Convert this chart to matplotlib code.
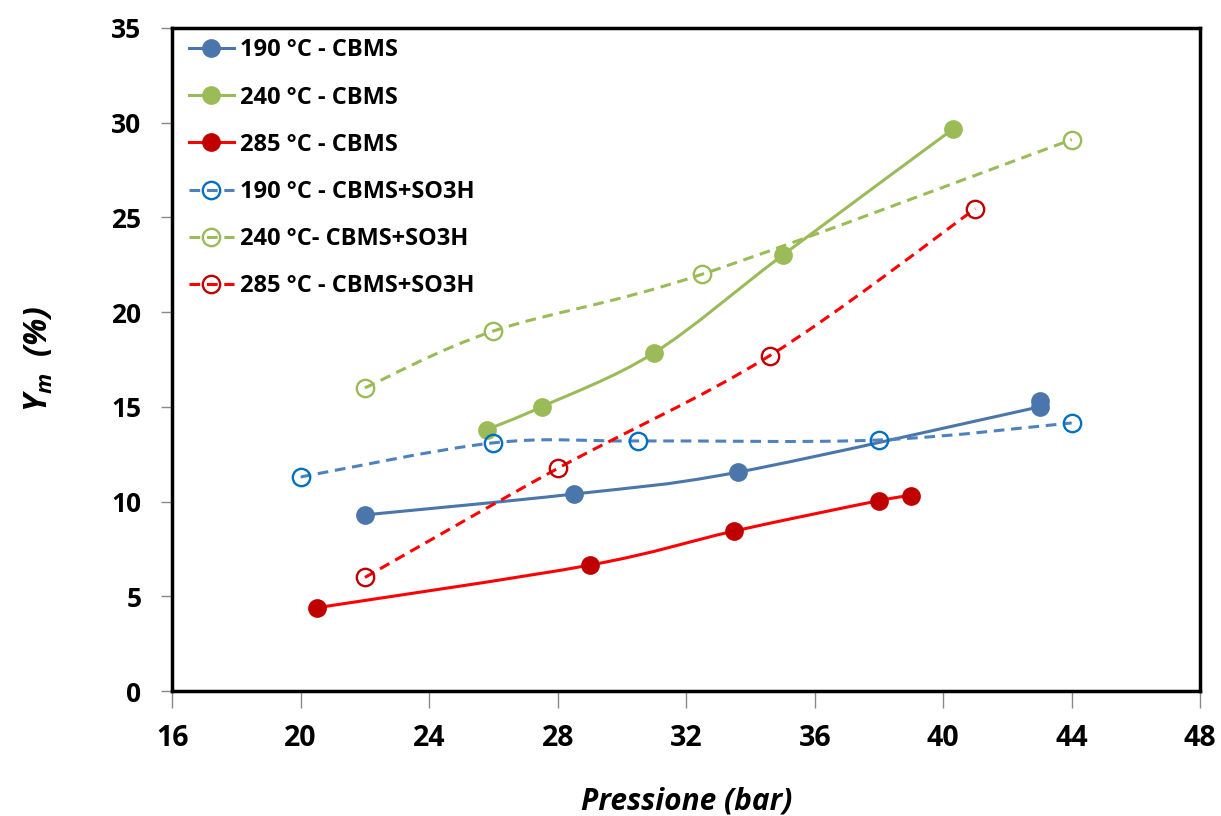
import matplotlib.pyplot as plt
from matplotlib.path import Path
from matplotlib.patches import PathPatch
from matplotlib.lines import Line2D

# values
x_190 = [22, 28.5, 33.6, 43, 43]
y_190 = [9.3, 10.4, 11.55, 15.0, 15.3]
x_240 = [25.8, 27.5, 31.0, 35.0, 40.3]
y_240 = [13.8, 15.0, 17.85, 23.0, 29.65]
x_285 = [20.5, 29.0, 33.5, 38.0, 39.0]
y_285 = [4.4, 6.65, 8.45, 10.05, 10.3]
x_190s = [20, 26, 30.5, 38, 44]
y_190s = [11.3, 13.1, 13.2, 13.25, 14.15]
x_240s = [22, 26, 32.5, 44]
y_240s = [16.0, 19.0, 22.0, 29.1]
x_285s = [22, 28, 34.6, 41]
y_285s = [6.0, 11.75, 17.7, 25.45]

labels = ["190 °C - CBMS", "240 °C - CBMS", "285 °C - CBMS",
          "190 °C - CBMS+SO3H", "240 °C- CBMS+SO3H", "285 °C - CBMS+SO3H"]

plt.rcParams['font.family'] = ['Open Sans', 'DejaVu Sans']
plt.rcParams['mathtext.fontset'] = 'custom'
plt.rcParams['mathtext.it'] = 'Open Sans:italic:bold'
plt.rcParams['mathtext.rm'] = 'Open Sans:bold'


def smooth_path(xs, ys):
    # Excel-like smoothed line: cubic Bezier segments through the points
    pts = list(zip(xs, ys))
    verts = [pts[0]]
    codes = [Path.MOVETO]
    n = len(pts)
    for i in range(n - 1):
        p1 = pts[i]
        p2 = pts[i + 1]
        if p1[0] == p2[0]:
            verts.append(p2)
            codes.append(Path.LINETO)
            continue
        p0 = pts[max(i - 1, 0)]
        p3 = pts[min(i + 2, n - 1)]
        if p3[0] == p2[0]:
            p3 = p2
        c1 = (p1[0] + (p2[0] - p0[0]) / 6, p1[1] + (p2[1] - p0[1]) / 6)
        c2 = (p2[0] - (p3[0] - p1[0]) / 6, p2[1] - (p3[1] - p1[1]) / 6)
        verts += [c1, c2, p2]
        codes += [Path.CURVE4] * 3
    return Path(verts, codes)


fig = plt.figure(figsize=(12.21, 8.16), dpi=100)
ax = fig.add_axes([0.141, 0.153, 0.842, 0.813])

series = [
    (x_190, y_190, "#4A76AC", "-", "#4A76AC", "#4A76AC"),
    (x_240, y_240, "#9BBB59", "-", "#9BBB59", "#9BBB59"),
    (x_285, y_285, "#FF0000", "-", "#C00000", "#C00000"),
    (x_190s, y_190s, "#4F81BD", "--", "none", "#0070C0"),
    (x_240s, y_240s, "#9BBB59", "--", "none", "#9BBB59"),
    (x_285s, y_285s, "#FF0000", "--", "none", "#C00000"),
]

handles = []
for (xs, ys, lc, ls, mfc, mec), lab in zip(series, labels):
    dash = (0, (3.5, 2.2)) if ls == "--" else "-"
    patch = PathPatch(smooth_path(xs, ys), fill=False, edgecolor=lc,
                      linewidth=2.2, linestyle=dash, zorder=2)
    ax.add_patch(patch)
    filled = mfc != "none"
    ms = 13.5 if filled else 12.5
    ax.plot(xs, ys, ls="none", marker="o", ms=ms, mfc=mfc, mec=mec,
            mew=0 if filled else 1.7, zorder=3)
    handles.append(Line2D([], [], color=lc, lw=2.2, linestyle=dash,
                          marker="o", ms=ms, mfc=mfc, mec=mec,
                          mew=0 if filled else 1.7))

ax.set_xlim(16, 48)
ax.set_ylim(0, 35)
ax.set_xticks(range(16, 49, 4))
ax.set_yticks(range(0, 36, 5))

for s in ax.spines.values():
    s.set_linewidth(2.5)
    s.set_color("black")

ax.tick_params(axis="both", direction="out", color="#888888", width=1)
ax.tick_params(axis="y", length=8, pad=14, labelsize=19)
ax.tick_params(axis="x", length=12, pad=12, labelsize=20.5)
for t in ax.get_xticklabels() + ax.get_yticklabels():
    t.set_fontweight("bold")

ax.set_xlabel("Pressione (bar)", fontsize=21.5, fontweight="bold",
              fontstyle="italic", labelpad=24)
ax.set_ylabel(r"$Y_m$  (%)", fontsize=23, fontweight="bold",
              fontstyle="italic", labelpad=40)

leg = ax.legend(handles, labels, loc="upper left", frameon=False,
                bbox_to_anchor=(0.006, 1.0), borderaxespad=0.05,
                handlelength=1.9, handletextpad=0.28, labelspacing=0.98,
                prop={"size": 17, "weight": "bold"})

fig.savefig("out.png", dpi=100)
